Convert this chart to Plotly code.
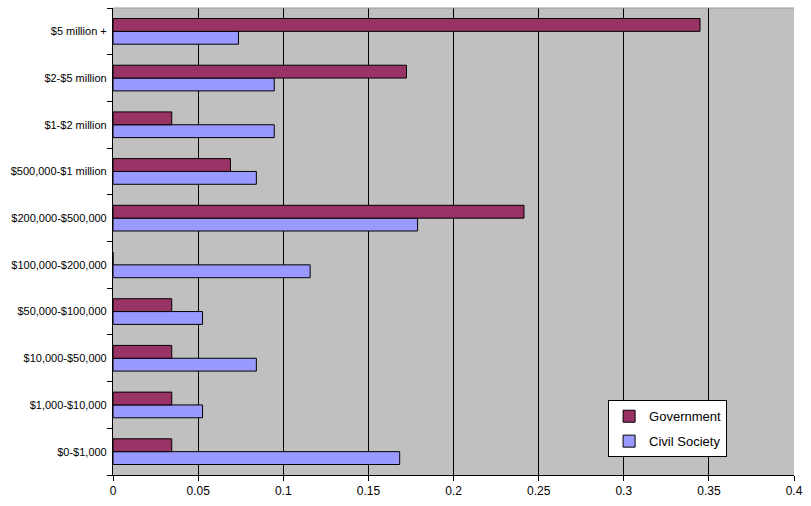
import plotly.graph_objects as go

categories = ["$0-$1,000", "$1,000-$10,000", "$10,000-$50,000", "$50,000-$100,000",
              "$100,000-$200,000", "$200,000-$500,000", "$500,000-$1 million",
              "$1-$2 million", "$2-$5 million", "$5 million +"]
government = [0.0345, 0.0345, 0.0345, 0.0345, 0.0, 0.2414, 0.0690, 0.0345, 0.1724, 0.3448]
civil_society = [0.1684, 0.0526, 0.0842, 0.0526, 0.1158, 0.1789, 0.0842, 0.0947, 0.0947, 0.0737]
x_ticks = [0, 0.05, 0.1, 0.15, 0.2, 0.25, 0.3, 0.35, 0.4]
x_tick_labels = ["0", "0.05", "0.1", "0.15", "0.2", "0.25", "0.3", "0.35", "0.4"]

fig = go.Figure()
fig.add_trace(go.Bar(y=categories, x=civil_society, orientation="h", name="Civil Society",
                     legendgroup="c", legendrank=2,
                     marker=dict(color="#9999FF", line=dict(color="#000000", width=1))))
fig.add_trace(go.Bar(y=categories, x=government, orientation="h", name="Government",
                     legendgroup="g", legendrank=1,
                     marker=dict(color="#993366", line=dict(color="#000000", width=1))))

fig.update_layout(
    width=811, height=506,
    margin=dict(l=113, r=11, t=8, b=28),
    barmode="group", bargap=0.45, bargroupgap=0,
    plot_bgcolor="#C0C0C0", paper_bgcolor="#FFFFFF",
    font=dict(family="Liberation Sans, Arial, sans-serif", size=11, color="#000000"),
    legend=dict(x=0.727, y=0.16, xanchor="left", yanchor="top", traceorder="grouped",
                tracegroupgap=5, itemwidth=30,
                bgcolor="#FFFFFF", bordercolor="#000000", borderwidth=1,
                font=dict(size=13)),
    showlegend=True,
)
fig.update_xaxes(range=[0, 0.4], tickvals=x_ticks, ticktext=x_tick_labels,
                 tickfont=dict(size=12),
                 showgrid=True, gridcolor="#000000", gridwidth=1,
                 showline=True, linecolor="#000000", linewidth=1,
                 ticks="outside", ticklen=5, tickcolor="#000000", zeroline=False)
fig.update_yaxes(type="category", categoryorder="array", categoryarray=categories,
                 showgrid=False, showline=True, linecolor="#000000", linewidth=1,
                 ticks="outside", ticklen=5, tickcolor="#000000", tickson="boundaries",
                 ticksuffix=" ")
fig.add_shape(type="line", xref="paper", yref="paper", x0=0, x1=1, y0=1, y1=1,
              line=dict(color="#999999", width=1))

fig.write_html("out.html")
